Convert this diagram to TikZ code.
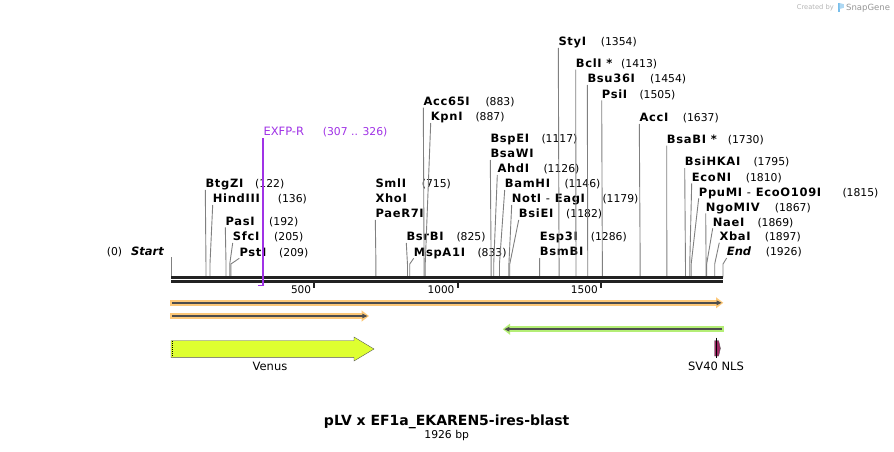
\documentclass[tikz,border=0pt]{standalone}
\usepackage{fontspec}
\setmainfont{DejaVu Sans}
\newfontfamily\sitefont[LetterSpace=6]{DejaVu Sans Bold}
\usetikzlibrary{arrows.meta}

\definecolor{cutgray}{RGB}{128,128,128}
\definecolor{seqblack}{RGB}{34,34,34}
\definecolor{primerpurple}{RGB}{160,50,230}
\definecolor{orfband}{RGB}{253,200,120}
\definecolor{orfgreen}{RGB}{180,238,118}
\definecolor{orfcore}{RGB}{77,77,77}
\definecolor{venusfill}{RGB}{222,255,48}
\definecolor{nlsfill}{RGB}{160,40,100}
\definecolor{featline}{RGB}{85,85,85}
\definecolor{snapgray}{RGB}{150,150,150}
\definecolor{snapblue}{RGB}{120,190,235}

\tikzset{
  site/.style={anchor=base west, inner sep=0pt, font=\fontsize{11.5}{13}\selectfont\sitefont},
  endsite/.style={site, font=\fontsize{11.5}{13}\selectfont\bfseries\itshape},
  sitenum/.style={anchor=base west, inner sep=0pt, font=\fontsize{10.8}{12}\selectfont},
  cut/.style={cutgray, line width=0.9pt},
  seqline/.style={seqblack, line width=2.7pt},
  band/.style={line width=5.7pt, -{Triangle[length=7.3pt,width=10.6pt]}},
  core/.style={orfcore, line width=1.8pt, -{Triangle[length=5pt,width=4.4pt]}},
  featlabel/.style={anchor=base, inner sep=0pt, font=\fontsize{11.5}{13}\selectfont},
}

\begin{document}
\begin{tikzpicture}[x=1pt,y=-1pt]
\useasboundingbox[fill=white] (0,0) rectangle (894,452);

% logo
\node[anchor=base west, inner sep=0pt, text=snapgray!70, font=\fontsize{6.7}{8}\selectfont] (created) at (796.7,10) {Created by};
\fill[snapblue] (837.5,3) rectangle (839.6,12.5);
\fill[snapblue!60] (839.6,3) -- (843.8,4.2) -- (843.8,7.8) -- (839.6,9) -- cycle;
\node[anchor=base west, inner sep=0pt, text=snapgray, font=\fontsize{8.5}{10}\selectfont] (snapgene) at (846,10.5) {SnapGene};

\coordinate (seq-start) at (171,277.3);
\coordinate (seq-end) at (723,277.3);

% enzyme labels
\foreach \id/\txt/\x/\y in {
  btgzi/BtgZI/205.3/187.7, hindiii/HindIII/212.7/202.7, pasi/PasI/225.3/225,
  sfci/SfcI/232.7/240.7, psti/PstI/239.3/256,
  smli/SmlI/375.3/187.7, xhoi/XhoI/375.3/202.7, paer7i/PaeR7I/375.3/217.7,
  bsrbi/BsrBI/406.3/240.7, mspa1i/MspA1I/413.7/256,
  acc65i/Acc65I/423.3/105.3, kpni/KpnI/430.7/120.7,
  bspei/BspEI/490.3/142.7, bsawi/BsaWI/490.3/157.7, ahdi/AhdI/497.3/172.7,
  bamhi/BamHI/504.7/187.7, noti/NotI {\normalfont-} EagI/511.7/202.7, bsiei/BsiEI/518.7/217.7,
  esp3i/Esp3I/539.7/240.7, bsmbi/BsmBI/539.7/255.7,
  styi/StyI/558.3/45.7, bcli/BclI */575.7/67.3, bsu36i/Bsu36I/587.3/82.7, psii/PsiI/601.7/98,
  acci/AccI/639.3/121.7, bsabi/BsaBI */666.7/143.3,
  bsihkai/BsiHKAI/684.7/165.7, econi/EcoNI/691.7/181, ppumi/PpuMI {\normalfont-} EcoO109I/698.7/196,
  ngomiv/NgoMIV/705.7/211, naei/NaeI/712.7/226, xbai/XbaI/719.3/240.3}
  \node[site] (\id) at (\x,\y) {\txt};
\node[endsite] (start) at (131,255.7) {Start};
\node[endsite] (end) at (726.7,255.7) {End};

% positions
\foreach \id/\txt/\x in {
  start/(0)/106.7, btgzi/(122)/255, hindiii/(136)/277.7, pasi/(192)/269, sfci/(205)/274, psti/(209)/279,
  smli/(715)/421.7, bsrbi/(825)/456.3, mspa1i/(833)/477.3, acc65i/(883)/485.3, kpni/(887)/475.3,
  bspei/(1117)/541.3, ahdi/(1126)/543.3, bamhi/(1146)/564.3, noti/(1179)/602.3, bsiei/(1182)/566,
  esp3i/(1286)/590.7, styi/(1354)/600.7, bcli/(1413)/621, bsu36i/(1454)/650, psii/(1505)/639.3,
  acci/(1637)/682.7, bsabi/(1730)/727.7, bsihkai/(1795)/753.3, econi/(1810)/745.7,
  ppumi/(1815)/842.3, ngomiv/(1867)/774.7, naei/(1869)/757.3, xbai/(1897)/764.7, end/(1926)/765.7}
  \node[sitenum] (\id-n) at (\x,0 |- \id.base) {\txt};

% cut sites
\foreach \id/\bp in {
  btgzi/122, hindiii/136, pasi/192, sfci/205, psti/209, paer7i/715, bsrbi/825, mspa1i/833,
  acc65i/883, kpni/887, bsawi/1117, ahdi/1126, bamhi/1146, noti/1179, bsiei/1182, bsmbi/1286,
  styi/1354, bcli/1413, bsu36i/1454, psii/1505, acci/1637, bsabi/1730, bsihkai/1795,
  econi/1810, ppumi/1815, ngomiv/1867, naei/1869, xbai/1897, end/1926}{
  \coordinate (\id-cut) at ({171+0.2866*\bp},264);
  \draw[cut] ([yshift=-2.3pt]\id.base west) -- (\id-cut) -- (\id-cut |- seq-start);
}
\coordinate (start-cut) at (171,257);
\draw[cut] (start-cut) -- (seq-start);

% sequence
\draw[seqline] (seq-start) -- (seq-end);
\draw[seqline] ([yshift=-4pt]seq-start) -- ([yshift=-4pt]seq-end);
\foreach \bp in {500,1000,1500}{
  \draw[seqblack, line width=1.8pt] ({171+0.2866*\bp},282.8) -- ++(0,5.6);
  \node[anchor=base east, inner sep=0pt, font=\fontsize{10.5}{12}\selectfont] (tick-\bp) at ({168+0.2866*\bp},293.3) {\bp};
}

% primer
\node[anchor=base west, inner sep=0pt, text=primerpurple, font=\fontsize{11.5}{13}\selectfont] (exfp) at (263.3,135.7) {EXFP-R};
\node[anchor=base west, inner sep=0pt, text=primerpurple, font=\fontsize{10.8}{12}\selectfont] (exfp-n) at (322.7,135.7) {(307 .. 326)};
\coordinate (exfp-bind) at (258.3,285.6);
\draw[primerpurple, line width=1.7pt] ([yshift=-2.5pt]exfp.base west) |- (exfp-bind);

% features
\coordinate (orf1-a) at (170,302.8); \coordinate (orf1-b) at (723.3,302.8);
\draw[orfband, band] (orf1-a) -- (orf1-b);
\draw[core] ([xshift=2pt]orf1-a) -- ([xshift=-1.6pt]orf1-b);
\coordinate (orf2-a) at (170,316); \coordinate (orf2-b) at (369,316);
\draw[orfband, band] (orf2-a) -- (orf2-b);
\draw[core] ([xshift=2pt]orf2-a) -- ([xshift=-1.6pt]orf2-b);
\coordinate (orf3-a) at (723.8,329.2); \coordinate (orf3-b) at (502.7,329.2);
\draw[orfgreen, band] (orf3-a) -- (orf3-b);
\draw[core] ([xshift=-2pt]orf3-a) -- ([xshift=1.6pt]orf3-b);

% Venus
\draw[featline, fill=venusfill] (171,340.7) -- (354,340.7) -- (354,337) -- (374,349) -- (354,361) -- (354,357.3) -- (171,357.3) -- cycle;
\draw[black, line width=1.2pt, dash pattern=on 1pt off 1pt] (172.4,341.3) -- (172.4,356.7);
\node[featlabel] (venus) at (270,370) {Venus};

% SV40 NLS
\draw[featline, fill=nlsfill] (714.5,340.7) -- (718.6,340.7) -- (720.4,348.3) -- (718.6,356) -- (714.5,356) -- cycle;
\draw[black, line width=0.6pt] (716.7,337.5) -- (716.7,357.5);
\node[featlabel] (nls) at (716,370) {SV40 NLS};

% title
\node[anchor=base, inner sep=0pt, font=\fontsize{14}{16}\selectfont\bfseries] (title) at (446.7,425.7) {pLV x EF1a\_EKAREN5-ires-blast};
\node[anchor=base, inner sep=0pt, font=\fontsize{10.8}{12}\selectfont] (length) at (446.7,438.3) {1926 bp};
\end{tikzpicture}
\end{document}
